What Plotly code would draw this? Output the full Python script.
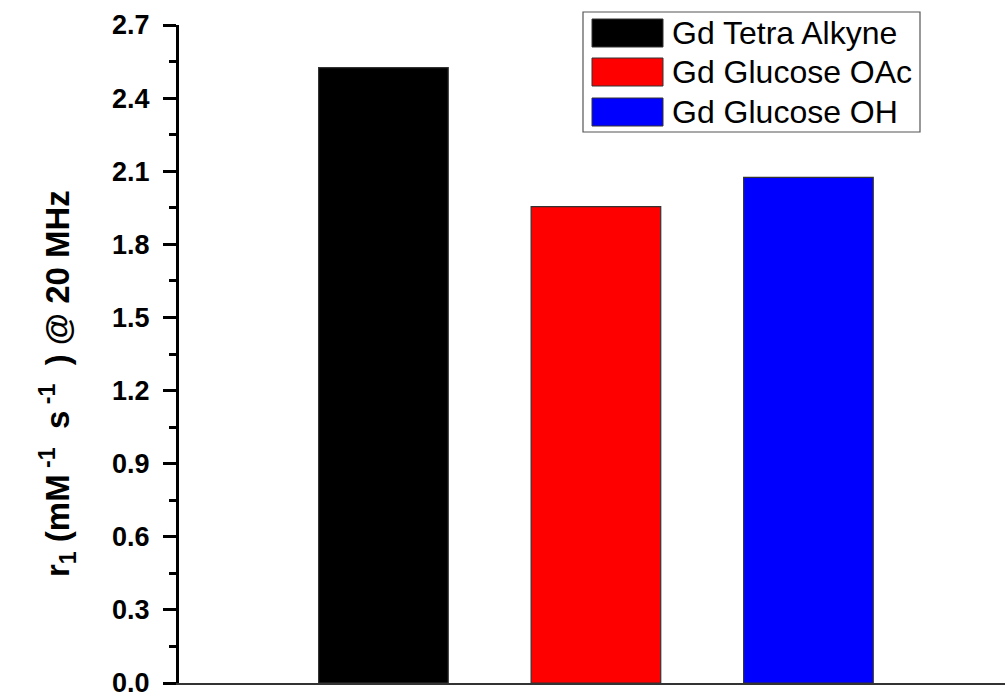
import plotly.graph_objects as go

# ---- data ----
categories = ["Gd Tetra Alkyne", "Gd Glucose OAc", "Gd Glucose OH"]
r1_values = [2.525, 1.955, 2.075]
bar_colors = ["#000000", "#ff0000", "#0000ff"]
y_tick_vals = [0.0, 0.3, 0.6, 0.9, 1.2, 1.5, 1.8, 2.1, 2.4, 2.7]
y_tick_text = ["0.0", "0.3", "0.6", "0.9", "1.2", "1.5", "1.8", "2.1", "2.4", "2.7"]

W, H = 1005, 695
L, R, T, B = 179, 0, 25, 12
PW, PH = W - L - R, H - T - B

def px_x(px):
    return (px - L) / PW

def px_y(py):
    return (H - B - py) / PH

FONT = "Liberation Sans, Arial, sans-serif"

fig = go.Figure()
fig.add_trace(go.Bar(
    x=list(range(len(categories))),
    y=r1_values,
    width=0.61,
    marker=dict(color=bar_colors, line=dict(color="#333333", width=1.2)),
    showlegend=False,
    cliponaxis=False,
))

fig.update_layout(
    width=W, height=H,
    margin=dict(l=L, r=R, t=T, b=B, pad=0, autoexpand=False),
    plot_bgcolor="white", paper_bgcolor="white",
    font=dict(family=FONT, color="black"),
    xaxis=dict(
        range=[-0.962, 2.925], showgrid=False, zeroline=False,
        showticklabels=False, ticks="", showline=True,
        linecolor="#333333", linewidth=2,
    ),
    yaxis=dict(
        range=[0, 2.7], showgrid=False, zeroline=False,
        showline=True, linecolor="black", linewidth=3,
        ticks="outside", ticklen=13, tickwidth=3, tickcolor="black",
        tickvals=y_tick_vals, ticktext=y_tick_text,
        tickfont=dict(family=FONT, size=27, color="black", weight="bold"),
        ticklabelstandoff=8, ticklabeloverflow="allow",
        minor=dict(ticks="outside", ticklen=7, tickwidth=3, tickcolor="black",
                   tickvals=[v + 0.15 for v in y_tick_vals[:-1]]),
    ),
)

# y axis title
fig.add_annotation(
    xref="paper", yref="paper", x=px_x(58), y=px_y(384),
    text="r<sub>1</sub> (mM<sup> -1</sup>  s<sup> -1</sup>  ) @ 20 MHz",
    textangle=-90, showarrow=False, xanchor="center", yanchor="middle",
    font=dict(family=FONT, size=33, color="black", weight="bold"),
)

# legend box
fig.add_shape(type="rect", xref="paper", yref="paper",
              x0=px_x(583), x1=px_x(920), y0=px_y(132), y1=px_y(12),
              line=dict(color="#555555", width=1.2), fillcolor="white")
row_centers = [33, 72, 112]
for name, col, cy in zip(categories, bar_colors, row_centers):
    fig.add_shape(type="rect", xref="paper", yref="paper",
                  x0=px_x(592), x1=px_x(663), y0=px_y(cy + 14), y1=px_y(cy - 14),
                  line=dict(color="#333333", width=1), fillcolor=col)
    fig.add_annotation(xref="paper", yref="paper", x=px_x(670), y=px_y(cy),
                       text=name, showarrow=False, xanchor="left", yanchor="middle",
                       font=dict(family=FONT, size=32, color="black"))

fig.write_html(
    "out.html",
    config={"displayModeBar": False},
    post_script="document.body.style.margin='0';document.body.style.overflow='hidden';",
)
